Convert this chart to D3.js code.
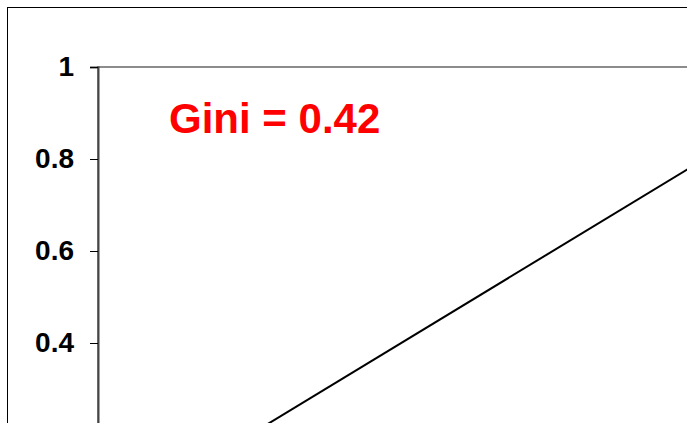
<!DOCTYPE html>
<html>
<head>
<meta charset="utf-8">
<script src="https://cdn.jsdelivr.net/npm/d3@7"></script>
<style>
    body { margin: 0; background: #fff; }
    svg { display: block; }
</style>
</head>
<body>
<div id="chart"></div>
<script>
// Data: line of equality plus the Gini value
const equalityX = [0, 1];
const equalityY = [0, 1];
const yTicks = [0.4, 0.6, 0.8, 1];   // 0 and 0.2 fall below the visible area
const giniText = "Gini = 0.42";

const W = 691, H = 423;
const clipRight = 687;

// the plot area runs past the bottom and right edges of the picture
const plot = { left: 98, top: 67, width: 758, height: 460 };

const svg = d3.select("#chart")
    .append("svg")
    .attr("width", W)
    .attr("height", H);

svg.append("defs").append("clipPath")
    .attr("id", "crop")
    .append("rect")
    .attr("x", 0).attr("y", 0)
    .attr("width", clipRight).attr("height", H);

const root = svg.append("g").attr("clip-path", "url(#crop)");

// outer chart border
root.append("rect")
    .attr("x", 7.5).attr("y", 7.5)
    .attr("width", 1000).attr("height", 1000)
    .attr("fill", "none")
    .attr("stroke", "#000")
    .attr("stroke-width", 1);

const x = d3.scaleLinear().domain([0, 1]).range([plot.left, plot.left + plot.width]);
const y = d3.scaleLinear().domain([0, 1]).range([plot.top + plot.height, plot.top]);

// plot area border (grey)
root.append("rect")
    .attr("x", plot.left).attr("y", plot.top)
    .attr("width", plot.width).attr("height", plot.height)
    .attr("fill", "none")
    .attr("stroke", "#8c8c8c")
    .attr("stroke-width", 2);

// y axis
const yAxis = root.append("g")
    .attr("transform", `translate(${plot.left},0)`)
    .call(d3.axisLeft(y)
        .tickValues(yTicks)
        .tickFormat(d3.format("~g"))
        .tickSize(8)
        .tickPadding(16));

yAxis.select(".domain")
    .attr("stroke", "#444")
    .attr("stroke-width", 2);

yAxis.selectAll(".tick line")
    .attr("stroke", "#000")
    .attr("stroke-width", 1);

yAxis.selectAll(".tick text")
    .attr("fill", "#000")
    .style("font-family", "'Liberation Sans', Arial, sans-serif")
    .style("font-weight", "bold")
    .style("font-size", "28px");

// line of equality
const line = d3.line()
    .x((d, i) => x(equalityX[i]))
    .y((d, i) => y(equalityY[i]));

root.append("path")
    .datum(equalityX)
    .attr("d", line)
    .attr("fill", "none")
    .attr("stroke", "#000")
    .attr("stroke-width", 2);

// Gini label
root.append("text")
    .attr("x", 169)
    .attr("y", 133)
    .attr("fill", "#ff0000")
    .style("font-family", "'Liberation Sans', Arial, sans-serif")
    .style("font-weight", "bold")
    .style("font-size", "42px")
    .text(giniText);
</script>
</body>
</html>
